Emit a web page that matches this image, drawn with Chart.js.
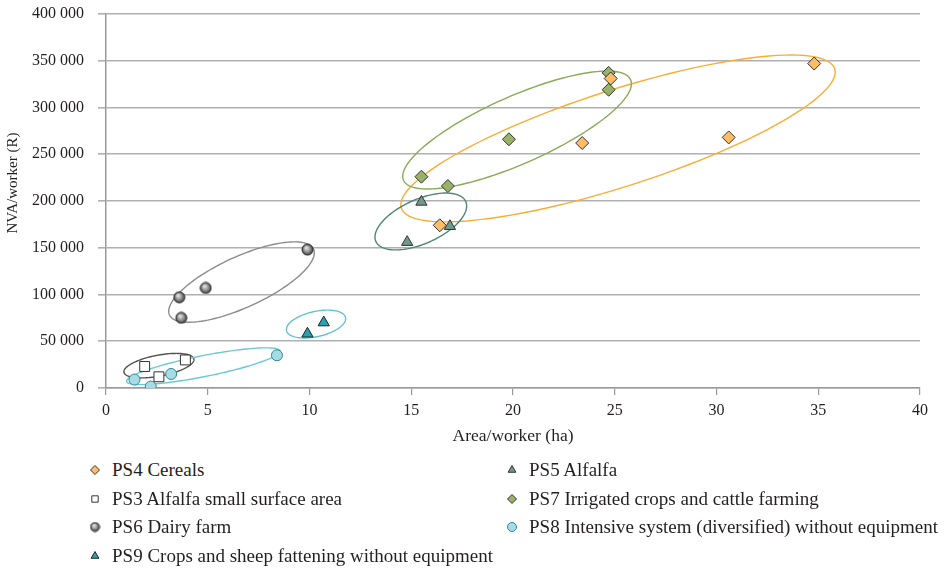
<!DOCTYPE html>
<html>
<head>
<meta charset="utf-8">
<script src="https://cdn.jsdelivr.net/npm/chart.js@4/dist/chart.umd.min.js"></script>
<style>
  body { margin: 0; background: #fff; font-family: "Liberation Serif", serif; color: #231f20; }
  #wrap { position: relative; width: 952px; height: 452px; }
  #legend {
    position: absolute; left: 85px; top: 456px;
    display: grid; grid-template-columns: 417px auto; grid-auto-rows: 28.5px;
  }
  .item { display: flex; align-items: center; font-size: 19px; white-space: nowrap; }
  .item canvas { width: 20px; height: 20px; margin-right: 7px; }
</style>
</head>
<body>
<div id="wrap"><canvas id="chart"></canvas></div>
<div id="legend"></div>
<script>
// values: area/worker (ha) and NVA/worker (R)
const ps4X = [16.4, 23.4, 24.8, 30.6, 34.8];
const ps4Y = [174000, 262000, 331000, 268000, 347000];
const ps5X = [14.8, 15.5, 16.9];
const ps5Y = [156000, 199000, 173000];
const ps3X = [1.9, 2.6, 3.9];
const ps3Y = [23000, 12000, 30000];
const ps7X = [15.5, 16.8, 19.8, 24.7, 24.7];
const ps7Y = [226000, 216000, 266000, 337000, 319000];
const ps6X = [3.6, 3.7, 4.9, 9.9];
const ps6Y = [97000, 75000, 107000, 148000];
const ps8X = [1.4, 2.2, 3.2, 8.4];
const ps8Y = [9000, 1500, 15000, 35000];
const ps9X = [9.9, 10.7];
const ps9Y = [58000, 70000];

const labels = [
  'PS4 Cereals', 'PS5 Alfalfa',
  'PS3 Alfalfa small surface area', 'PS7 Irrigated crops and cattle farming',
  'PS6 Dairy farm', 'PS8 Intensive system (diversified) without equipment',
  'PS9 Crops and sheep fattening without equipment'
];

const xTicks = [0, 40, 5];        // min, max, step
const yTicks = [0, 400000, 50000];

// group ellipses in data units: centre, end of major axis, end of minor axis
const ellipseCenters = [[25.16, 266900], [20.20, 275900], [15.47, 178100], [6.66, 113300], [10.32, 68400], [2.60, 23900], [4.78, 23300]];
const ellipseMajor   = [[35.81, 341400], [25.78, 329700], [17.68, 199400], [10.20, 148500], [11.77, 75400], [4.32, 31000], [8.55, 39600]];
const ellipseMinor   = [[25.89, 217800], [20.87, 243000], [15.91, 156400], [7.18, 88600], [10.45, 55200], [2.70, 12900], [4.88, 12300]];
const ellipseColors  = ['#f9ad33', '#8aab58', '#4f8574', '#8c8c8c', '#62c3cf', '#555555', '#6cc8d3'];

function toPoints(xs, ys) {
  return xs.map((x, i) => ({ x: x, y: ys[i] }));
}

// grey shaded ball used for PS6
function makeBall(r) {
  const c = document.createElement('canvas');
  const s = Math.ceil(r * 2 + 2);
  c.width = s; c.height = s;
  const g = c.getContext('2d');
  const grad = g.createRadialGradient(s * 0.4, s * 0.35, 0.5, s / 2, s / 2, r);
  grad.addColorStop(0, '#e6e6e6');
  grad.addColorStop(0.6, '#8a8a8a');
  grad.addColorStop(1, '#3c3c3c');
  g.beginPath();
  g.arc(s / 2, s / 2, r, 0, Math.PI * 2);
  g.fillStyle = grad;
  g.fill();
  g.lineWidth = 1;
  g.strokeStyle = '#2e2e2e';
  g.stroke();
  return c;
}
const ball = makeBall(5.5);
const smallBall = makeBall(4.5);

const datasets = [
  { label: labels[0], data: toPoints(ps4X, ps4Y), pointStyle: 'rectRot', pointRadius: 6.5, backgroundColor: '#fdbd67', borderColor: '#333' },
  { label: labels[1], data: toPoints(ps5X, ps5Y), pointStyle: 'triangle', pointRadius: 6.5, backgroundColor: '#71998a', borderColor: '#333' },
  { label: labels[2], data: toPoints(ps3X, ps3Y), pointStyle: 'rect', pointRadius: 7, backgroundColor: '#ffffff', borderColor: '#333' },
  { label: labels[3], data: toPoints(ps7X, ps7Y), pointStyle: 'rectRot', pointRadius: 6.5, backgroundColor: '#98b26a', borderColor: '#333' },
  { label: labels[4], data: toPoints(ps6X, ps6Y), pointStyle: ball, pointRadius: 6, backgroundColor: '#888', borderColor: '#333' },
  { label: labels[5], data: toPoints(ps8X, ps8Y), pointStyle: 'circle', pointRadius: 5.5, backgroundColor: '#a8dce5', borderColor: '#2d8797' },
  { label: labels[6], data: toPoints(ps9X, ps9Y), pointStyle: 'triangle', pointRadius: 6.5, backgroundColor: '#27a2b3', borderColor: '#222' }
];
datasets.forEach(d => { d.borderWidth = 1; d.pointHoverRadius = d.pointRadius; });

// ellipses drawn through the scales, under the points
const ellipsePlugin = {
  id: 'ellipses',
  beforeDatasetsDraw(chart) {
    const ctx = chart.ctx;
    const xs = chart.scales.x, ys = chart.scales.y;
    ellipseCenters.forEach((c, i) => {
      const cx = xs.getPixelForValue(c[0]), cy = ys.getPixelForValue(c[1]);
      const ux = xs.getPixelForValue(ellipseMajor[i][0]) - cx, uy = ys.getPixelForValue(ellipseMajor[i][1]) - cy;
      const vx = xs.getPixelForValue(ellipseMinor[i][0]) - cx, vy = ys.getPixelForValue(ellipseMinor[i][1]) - cy;
      ctx.save();
      ctx.beginPath();
      for (let k = 0; k <= 120; k++) {
        const t = k / 120 * Math.PI * 2;
        const px = cx + ux * Math.cos(t) + vx * Math.sin(t);
        const py = cy + uy * Math.cos(t) + vy * Math.sin(t);
        if (k === 0) ctx.moveTo(px, py); else ctx.lineTo(px, py);
      }
      ctx.closePath();
      ctx.strokeStyle = ellipseColors[i];
      ctx.lineWidth = 1.4;
      ctx.stroke();
      ctx.restore();
    });
  }
};

// y axis title sits a little above the middle of the axis in the original
const yTitlePlugin = {
  id: 'yTitle',
  afterDraw(chart) {
    const ctx = chart.ctx;
    const a = chart.chartArea;
    ctx.save();
    ctx.translate(13, (a.top + a.bottom) / 2 - 18);
    ctx.rotate(-Math.PI / 2);
    ctx.font = '15px "Liberation Serif"';
    ctx.fillStyle = '#231f20';
    ctx.textAlign = 'center';
    ctx.textBaseline = 'middle';
    ctx.fillText('NVA/worker (R)', 0, 0);
    ctx.restore();
  }
};

const spaced = v => String(v).replace(/\B(?=(\d{3})+(?!\d))/g, ' ');

const chart = new Chart(document.getElementById('chart').getContext('2d'), {
  type: 'scatter',
  data: { datasets: datasets },
  options: {
    responsive: true,
    maintainAspectRatio: false,
    animation: false,
    events: [],
    layout: { padding: { top: 14, right: 32, left: 0, bottom: 0 } },
    plugins: { legend: { display: false }, tooltip: { enabled: false } },
    scales: {
      x: {
        type: 'linear',
        min: xTicks[0], max: xTicks[1],
        afterFit: s => { s.height = 64; },
        ticks: { stepSize: xTicks[2], padding: 6, color: '#231f20', font: { family: 'Liberation Serif', size: 16 } },
        grid: { drawOnChartArea: false, tickLength: 7, color: '#9a9a9a', lineWidth: 1.2 },
        border: { color: '#9a9a9a', width: 1.5 },
        title: { display: true, text: 'Area/worker (ha)', color: '#231f20', padding: { top: 0, bottom: 5 }, font: { family: 'Liberation Serif', size: 17.5 } }
      },
      y: {
        min: yTicks[0], max: yTicks[1],
        afterFit: s => { s.width = 106; s.paddingTop = 0; s.paddingBottom = 0; },
        ticks: { stepSize: yTicks[2], padding: 14, color: '#231f20', callback: v => spaced(v), font: { family: 'Liberation Serif', size: 16 } },
        grid: { tickLength: 8, color: '#b0b0b3', lineWidth: 1.6 },
        border: { color: '#9a9a9a', width: 1.5 },
        title: { display: false }
      }
    }
  },
  plugins: [ellipsePlugin, yTitlePlugin]
});

// legend in two columns, markers drawn with the library helper
const legend = document.getElementById('legend');
datasets.forEach(d => {
  const item = document.createElement('div');
  item.className = 'item';
  const c = document.createElement('canvas');
  c.width = 20; c.height = 20;
  const g = c.getContext('2d');
  g.fillStyle = d.backgroundColor;
  g.strokeStyle = d.borderColor;
  g.lineWidth = 1;
  const style = d.pointStyle === ball ? smallBall : d.pointStyle;
  Chart.helpers.drawPoint(g, { pointStyle: style, radius: 4.5, borderWidth: 1 }, 10, 10);
  item.appendChild(c);
  const span = document.createElement('span');
  span.textContent = d.label;
  item.appendChild(span);
  legend.appendChild(item);
});
</script>
</body>
</html>
